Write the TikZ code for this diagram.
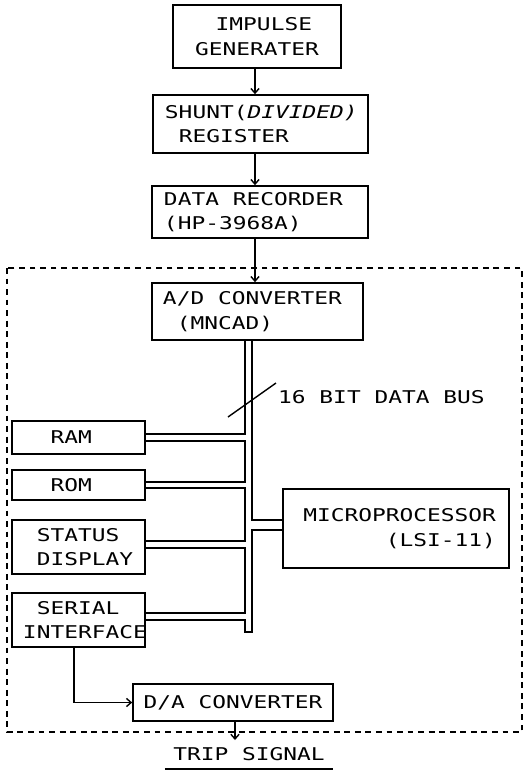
\documentclass[tikz,border=0pt]{standalone}
\usepackage{fontspec}
\usetikzlibrary{positioning,arrows.meta,calc}
\newfontfamily\dotfont{DejaVu Sans Mono}[FakeStretch=1.3]
\newcommand{\blank}{\phantom{0}}
\tikzset{
  ubox/.style={draw,line width=1.4pt,inner ysep=1pt,align=left},
  sbox/.style={draw,line width=1.4pt,minimum width=3.99cm,
               inner xsep=0.33cm,inner ysep=1pt,text width=3.33cm,align=left},
  arr/.style={-{Straight Barb[length=4pt,width=7pt]},line width=1.2pt},
  bus/.style={line width=1.2pt,line join=miter},
  frame/.style={line width=1pt,dash pattern=on 5pt off 4pt},
}

\begin{document}
\begin{tikzpicture}[x=0.03cm,y=-0.03cm,font=\dotfont\fontsize{15}{21}\selectfont]
  \useasboundingbox (0,0) rectangle (528,773);
  % processing unit
  \draw[frame] (7,268) rectangle (522,732);
  % measuring chain
  \node[ubox,align=center,minimum width=5.04cm,minimum height=1.89cm] (imp) at (257,36.5) {\blank IMPULSE\\GENERATER};
  \node[ubox,minimum width=6.45cm,minimum height=1.74cm,inner xsep=0.36cm,text width=5.73cm] (shunt) at (260.5,124) {SHUNT(\textit{DIVIDED)}\\\blank REGISTER};
  \node[ubox,minimum width=6.48cm,minimum height=1.56cm,inner xsep=0.36cm,text width=5.76cm] (rec) at (260,212) {DATA\blank RECORDER\\(HP-3968A)};
  \node[ubox,minimum width=6.33cm,minimum height=1.71cm,inner xsep=0.33cm,text width=5.67cm] (adc) at (257.5,311.5) {A/D\blank CONVERTER\\\blank (MNCAD)};
  % units on the bus
  \node[sbox,minimum height=0.99cm] (ram) at (78.5,437.5) {\blank\blank RAM};
  \node[sbox,minimum height=0.9cm] (rom) at (78.5,485) {\blank\blank ROM};
  \node[sbox,minimum height=1.62cm] (stat) at (78.5,547) {\blank STATUS\\\blank DISPLAY};
  \node[sbox,minimum height=1.62cm] (ser) at (78.5,620) {\blank SERIAL\\INTERFACE};
  \node[ubox,align=right,minimum width=6.78cm,minimum height=2.37cm,inner xsep=0.39cm,text width=6.0cm] (mpu) at (396,528.5) {MICROPROCESSOR\\(LSI-11)};
  \node[ubox,align=center,minimum width=6.0cm,minimum height=1.11cm] (dac) at (233,702.5) {D/A\blank CONVERTER};
  \node[inner xsep=7pt,inner ysep=6.5pt] (trip) at (249,754.5) {TRIP SIGNAL};
  \draw[line width=1.2pt] (trip.south west) -- (trip.south east);

  \coordinate (col) at (255,0);
  \draw[arr] (col |- imp.south) -- (col |- shunt.north);
  \draw[arr] (col |- shunt.south) -- (col |- rec.north);
  \draw[arr] (col |- rec.south) -- (col |- adc.north);

  % 16 bit bus
  \coordinate (busL) at (245,0);
  \coordinate (busR) at (252,0);
  \coordinate (busend) at (0,632);
  \coordinate (ramU) at ($(ram.east)+(0,-3.5)$);
  \coordinate (ramD) at ($(ram.east)+(0,3.5)$);
  \coordinate (romU) at ($(rom.east)+(0,-3)$);
  \coordinate (romD) at ($(rom.east)+(0,3)$);
  \coordinate (statU) at ($(stat.east)+(0,-6)$);
  \coordinate (statD) at ($(stat.east)+(0,1)$);
  \coordinate (serU) at ($(ser.east)+(0,-7)$);
  \coordinate (serD) at ($(ser.east)+(0,0)$);
  \coordinate (mpuU) at ($(mpu.west)+(0,-8.5)$);
  \coordinate (mpuD) at ($(mpu.west)+(0,1.5)$);
  \draw[bus] (busL |- adc.south) -- (busL |- ramU) -- (ramU)
    (ramD) -- (busL |- ramD) -- (busL |- romU) -- (romU)
    (romD) -- (busL |- romD) -- (busL |- statU) -- (statU)
    (statD) -- (busL |- statD) -- (busL |- serU) -- (serU)
    (serD) -- (busL |- serD) -- (busL |- busend) -- (busR |- busend) -- (busR |- mpuD) -- (mpuD)
    (mpuU) -- (busR |- mpuU) -- (busR |- adc.south);
  \coordinate (slashlo) at (228,417);
  \coordinate (slashhi) at (276,383);
  \draw[bus] (slashlo) -- (slashhi);
  \node[anchor=west,inner sep=0pt] (buslabel) at (278,397) {16 BIT DATA BUS};

  % output path
  \draw[arr] ($(ser.south)+(-4.5,0)$) |- (dac.west);
  \coordinate (daout) at ($(dac.south)+(2,0)$);
  \draw[arr] (daout) -- (daout |- trip.north);
\end{tikzpicture}
\end{document}
